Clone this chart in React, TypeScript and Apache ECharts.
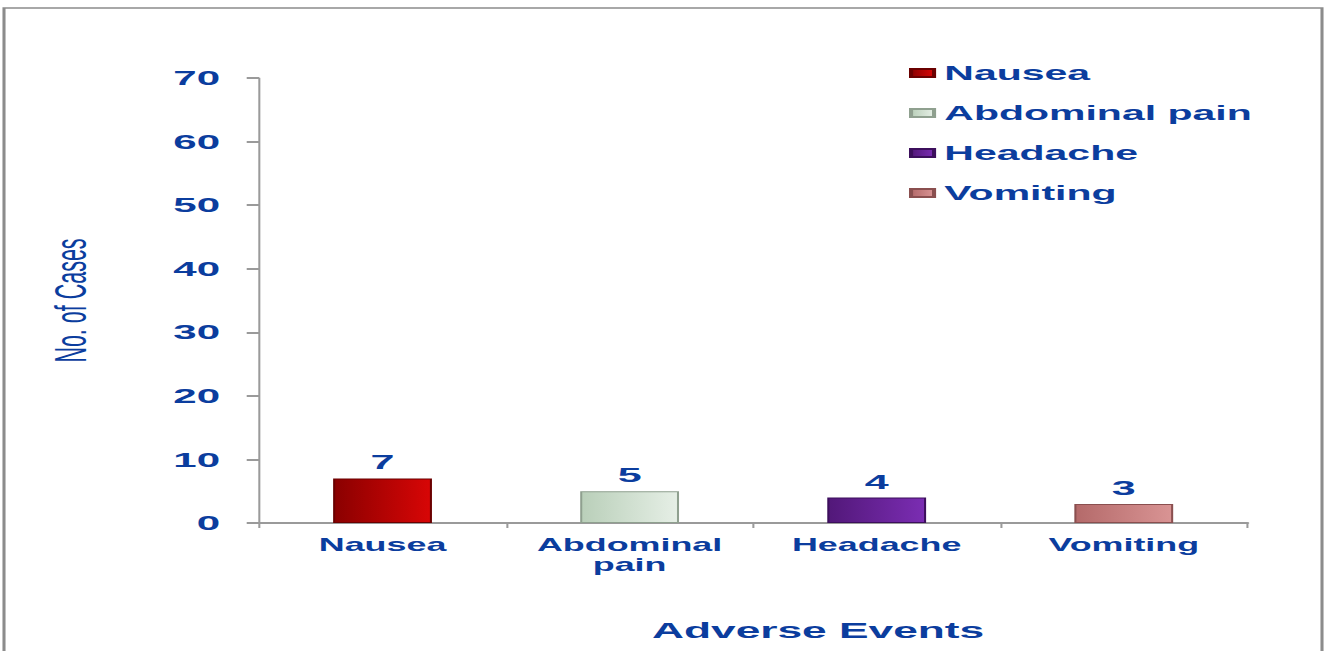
import React, { useEffect, useRef } from "react";
import * as echarts from "echarts";

const categories = ["Nausea", "Abdominal pain", "Headache", "Vomiting"];
const values = [7, 5, 4, 3];
const barColorsDark = ["#8a0000", "#b9cfb9", "#521879", "#b46a6a"];
const barColorsLight = ["#d80606", "#e6efe6", "#7b2db3", "#d99494"];
const barBorders = ["#6a0000", "#8fa08f", "#3c0f5c", "#8a4f4f"];
const yTicks = { min: 0, max: 70, interval: 10 };

const S = 2.05; // horizontal stretch of the reference image
const W = 1325 / S;
const H = 651;
const BLUE = "#0b3d9e";

export default function App() {
  const ref = useRef<HTMLDivElement>(null);
  useEffect(() => {
    if (!ref.current) return;
    const chart = echarts.init(ref.current, null, { renderer: "svg" });
    const series = categories.map((name, i) => ({
      name,
      type: "bar",
      stack: "total",
      barWidth: "40%",
      data: categories.map((_, j) => (j === i ? values[i] : null)),
      itemStyle: {
        color: new echarts.graphic.LinearGradient(0, 0, 1, 0, [
          { offset: 0, color: barColorsDark[i] },
          { offset: 1, color: barColorsLight[i] },
        ]),
        borderColor: barBorders[i],
        borderWidth: 1,
      },
      label: {
        show: true,
        position: "top",
        distance: 6,
        color: BLUE,
        fontSize: 21,
        fontWeight: "bold",
        fontFamily: "Liberation Sans",
      },
    }));
    chart.setOption({
      animation: false,
      backgroundColor: "#ffffff",
      grid: {
        left: 259 / S,
        right: (1325 - 1248) / S,
        top: 78,
        bottom: 651 - 523,
        containLabel: false,
      },
      title: {
        text: "Adverse Events",
        left: 652 / S,
        top: 619,
        padding: 0,
        textStyle: {
          color: BLUE,
          fontSize: 21.6,
          fontWeight: "bold",
          fontFamily: "Liberation Sans",
        },
      },
      legend: {
        orient: "vertical",
        left: 909 / S,
        top: 63,
        padding: 0,
        icon: "rect",
        itemWidth: 23 / S,
        itemHeight: 8,
        itemGap: 20,
        textStyle: {
          color: BLUE,
          fontSize: 20,
          fontWeight: "bold",
          fontFamily: "Liberation Sans",
          lineHeight: 20,
          padding: [0, 0, 0, 0],
        },
        data: categories,
      },
      xAxis: {
        type: "category",
        data: categories,
        axisLine: { lineStyle: { color: "#9a9a9a", width: 2 } },
        axisTick: { show: true, length: 5, lineStyle: { color: "#9a9a9a", width: 1 } },
        axisLabel: {
          color: BLUE,
          fontSize: 17.5,
          fontWeight: "bold",
          fontFamily: "Liberation Sans",
          margin: 12,
          lineHeight: 20,
          formatter: (v: string) => v.replace(" ", "\n"),
        },
      },
      yAxis: {
        type: "value",
        min: yTicks.min,
        max: yTicks.max,
        interval: yTicks.interval,
        name: "No. of Cases",
        nameLocation: "middle",
        nameRotate: 90,
        nameGap: 81,
        nameTextStyle: {
          color: BLUE,
          fontSize: 21.5,
          fontFamily: "Liberation Sans",
        },
        splitLine: { show: false },
        axisLine: { show: true, lineStyle: { color: "#9a9a9a", width: 1 } },
        axisTick: { show: true, length: 6, lineStyle: { color: "#9a9a9a", width: 2 } },
        axisLabel: {
          color: BLUE,
          fontSize: 20.5,
          fontWeight: "bold",
          fontFamily: "Liberation Sans",
          margin: 19,
        },
      },
      graphic: [
        {
          type: "rect",
          silent: true,
          shape: { x: 4 / S, y: 8, width: (1322 - 4) / S, height: 700 },
          style: { fill: "none", stroke: "#8c8c8c", lineWidth: 1.5 },
        },
      ],
      series,
    });
    return () => chart.dispose();
  }, []);
  return (
    <div
      ref={ref}
      style={{
        position: "absolute",
        left: 0,
        top: 0,
        width: W,
        height: H,
        transform: `scaleX(${S})`,
        transformOrigin: "0 0",
      }}
    />
  );
}
